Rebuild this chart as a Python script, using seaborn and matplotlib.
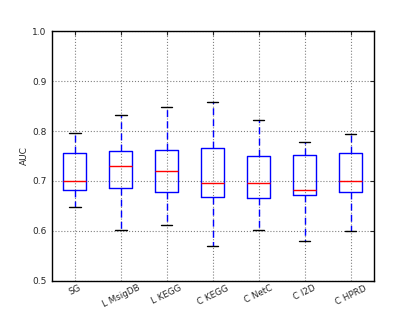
import matplotlib
matplotlib.use("Agg")
import matplotlib.pyplot as plt
import numpy as np
import pandas as pd
import seaborn as sns

# Box summaries: whisker low, Q1, median, Q3, whisker high
methods = ["SG", "L MsigDB", "L KEGG", "C KEGG", "C NetC", "C I2D", "C HPRD"]
low = [0.647, 0.602, 0.612, 0.570, 0.602, 0.580, 0.599]
q1 = [0.681, 0.685, 0.677, 0.667, 0.665, 0.671, 0.678]
median = [0.699, 0.730, 0.720, 0.695, 0.695, 0.681, 0.699]
q3 = [0.756, 0.760, 0.762, 0.766, 0.750, 0.752, 0.757]
high = [0.796, 0.833, 0.849, 0.859, 0.823, 0.778, 0.795]

# five points per method -> quartiles land exactly on the summary values
rows = []
for i, m in enumerate(methods):
    for v in (low[i], q1[i], median[i], q3[i], high[i]):
        rows.append({"method": m, "AUC": v})
df = pd.DataFrame(rows)

sns.set_style("white")
plt.rcParams["font.family"] = ["DejaVu Sans"]

fig, ax = plt.subplots(figsize=(4.15, 3.12), dpi=100)
fig.subplots_adjust(left=0.125, right=0.9, bottom=0.1, top=0.9)

sns.boxplot(data=df, x="method", y="AUC", order=methods, ax=ax,
            width=0.5, whis=(0, 100), fill=False, color="blue", linewidth=1,
            showfliers=False,
            boxprops=dict(color="blue"),
            whiskerprops=dict(color="blue", linestyle=(0, (5, 3))),
            capprops=dict(color="black"),
            medianprops=dict(color="red"))

ax.set_xlim(-0.5, len(methods) - 0.5)
ax.set_ylim(0.5, 1.0)
ax.set_yticks(np.arange(0.5, 1.01, 0.1))
ax.set_yticklabels(["%.1f" % t for t in np.arange(0.5, 1.01, 0.1)], fontsize=6.5)
ax.set_xticks(range(len(methods)))
ax.set_xticklabels(methods, rotation=26, fontsize=6.3)
ax.set_xlabel("")
ax.set_ylabel("AUC", fontsize=6.5, labelpad=2)
ax.grid(True, color="gray", linestyle=":", linewidth=0.8)
ax.set_axisbelow(True)
ax.tick_params(direction="in", length=3, top=True, right=True, pad=4)
ax.tick_params(axis="x", pad=2)
for s in ax.spines.values():
    s.set_color("black")
    s.set_linewidth(1)

fig.savefig("out.png", dpi=100)
